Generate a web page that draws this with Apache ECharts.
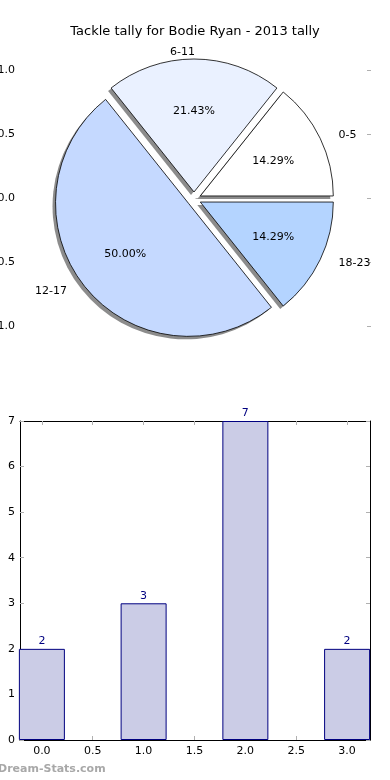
<!DOCTYPE html>
<html><head><meta charset="utf-8">
<script src="https://cdn.jsdelivr.net/npm/echarts@6/dist/echarts.min.js"></script>
<style>html,body{margin:0;padding:0;background:#fff}#c{width:390px;height:780px}</style>
</head><body><div id="c"></div>
<script>
const titleText = 'Tackle tally for Bodie Ryan - 2013 tally';
const sliceLabels = ['0-5', '6-11', '12-17', '18-23'];
const sliceValues = [2, 3, 7, 2];
const sliceColors = ['#ffffff', '#eaf1ff', '#c5d9ff', '#b4d4ff'];
const pieTicks = [-1.0, -0.5, 0.0, 0.5, 1.0];
const barX = [0, 1, 2, 3];
const barValues = [2, 3, 7, 2];
const barXTicks = [0, 0.5, 1, 1.5, 2, 2.5, 3];
const barYTicks = [0, 1, 2, 3, 4, 5, 6, 7];

const FONT = '"DejaVu Sans", sans-serif';
const tickGray = '#b0b0b0';
const sliceTotal = sliceValues.reduce((a, b) => a + b, 0);
const chart = echarts.init(document.getElementById('c'), null, {renderer: 'canvas'});

const PIE_C = [194, 199];
const PIE_R = 133;
const pieItem = {borderColor: '#000', borderWidth: 0.8};
const shadowItem = {color: '#8c8c8c', borderWidth: 0};
const pieCommon = {
  startAngle: 0, clockwise: false, selectedMode: 'multiple', selectedOffset: 7,
  avoidLabelOverlap: false, emphasis: {disabled: true}
};

const option = {
  animation: false,
  backgroundColor: '#fff',
  title: {
    text: titleText, left: 'center', top: 20,
    textStyle: {fontSize: 13, fontWeight: 'normal', color: '#000', fontFamily: FONT}
  },
  textStyle: {fontFamily: FONT},
  grid: [
    {left: 20, right: 19, top: 70, height: 256, show: false, outerBoundsMode: 'none', containLabel: false},
    {left: 20, right: 20, top: 421, height: 319, show: false, outerBoundsMode: 'none', containLabel: false}
  ],
  xAxis: [
    {gridIndex: 0, type: 'value', min: -1, max: 1, show: false},
    {gridIndex: 1, type: 'value', min: -0.215, max: 3.225, position: 'bottom',
      axisLine: {show: true, onZero: false, lineStyle: {color: '#000', width: 1}},
      axisTick: {show: true, inside: true, length: 4, lineStyle: {color: tickGray}, customValues: barXTicks},
      axisLabel: {show: true, customValues: barXTicks, formatter: v => v.toFixed(1), color: '#000', fontSize: 11, margin: 6, fontFamily: FONT},
      splitLine: {show: false}},
    {gridIndex: 1, type: 'value', min: -0.215, max: 3.225, position: 'top',
      axisLine: {show: true, onZero: false, lineStyle: {color: '#000', width: 1}},
      axisTick: {show: true, inside: true, length: 4, lineStyle: {color: tickGray}, customValues: barXTicks},
      axisLabel: {show: false}, splitLine: {show: false}}
  ],
  yAxis: [
    {gridIndex: 0, type: 'value', min: -1, max: 1, position: 'left',
      axisLine: {show: false},
      axisTick: {show: true, inside: true, length: 4, lineStyle: {color: tickGray}, customValues: pieTicks},
      axisLabel: {show: true, customValues: pieTicks, formatter: v => v.toFixed(1), color: '#000', fontSize: 11, margin: 5, fontFamily: FONT},
      splitLine: {show: false}},
    {gridIndex: 0, type: 'value', min: -1, max: 1, position: 'right',
      axisLine: {show: false},
      axisTick: {show: true, inside: true, length: 4, lineStyle: {color: tickGray}, customValues: pieTicks},
      axisLabel: {show: false}, splitLine: {show: false}},
    {gridIndex: 1, type: 'value', min: 0, max: 7, interval: 1, position: 'left',
      axisLine: {show: true, onZero: false, lineStyle: {color: '#000', width: 1}},
      axisTick: {show: true, inside: true, length: 4, lineStyle: {color: tickGray}, customValues: barYTicks},
      axisLabel: {show: true, customValues: barYTicks, color: '#000', fontSize: 11, margin: 5, fontFamily: FONT},
      splitLine: {show: false}},
    {gridIndex: 1, type: 'value', min: 0, max: 7, interval: 1, position: 'right',
      axisLine: {show: true, onZero: false, lineStyle: {color: '#000', width: 1}},
      axisTick: {show: true, inside: true, length: 4, lineStyle: {color: tickGray}, customValues: barYTicks},
      axisLabel: {show: false}, splitLine: {show: false}}
  ],
  series: [
    Object.assign({}, pieCommon, {
      type: 'pie', center: [PIE_C[0] - 3, PIE_C[1] + 3], radius: PIE_R, silent: true,
      data: sliceLabels.map((n, i) => ({name: n, value: sliceValues[i], selected: true})),
      itemStyle: shadowItem, select: {itemStyle: shadowItem},
      label: {show: false}, labelLine: {show: false}, z: 1
    }),
    Object.assign({}, pieCommon, {
      type: 'pie', center: PIE_C, radius: PIE_R,
      data: sliceLabels.map((n, i) => ({name: n, value: sliceValues[i], selected: true, itemStyle: {color: sliceColors[i]}})),
      itemStyle: pieItem, select: {itemStyle: pieItem},
      label: {show: true, position: 'outside', formatter: '{b}', color: '#000', fontSize: 11, fontFamily: FONT, distanceToLabelLine: 12},
      labelLine: {show: false, length: 7, length2: 0},
      labelLayout: p => p.dataIndex === 1 ? {align: 'right', dx: -11} : {},
      z: 2
    }),
    Object.assign({}, pieCommon, {
      type: 'pie', center: PIE_C, radius: [23, PIE_R], silent: true,
      data: sliceLabels.map((n, i) => ({name: n, value: sliceValues[i], selected: true})),
      itemStyle: {color: 'rgba(0,0,0,0)', borderWidth: 0},
      select: {itemStyle: {color: 'rgba(0,0,0,0)', borderWidth: 0}},
      label: {show: true, position: 'inside', formatter: p => (p.value / sliceTotal * 100).toFixed(2) + '%', color: '#000', fontSize: 11, fontFamily: FONT},
      labelLine: {show: false},
      z: 3
    }),
    {
      type: 'bar', xAxisIndex: 1, yAxisIndex: 2,
      data: barX.map((x, i) => [x, barValues[i]]),
      barWidth: 46, clip: true,
      itemStyle: {color: '#cbcce6', borderColor: '#000080', borderWidth: 1},
      emphasis: {disabled: true},
      label: {show: true, position: 'top', color: '#000080', fontSize: 11, distance: 2, fontFamily: FONT}
    }
  ],
  graphic: [
    {type: 'text', left: -2, top: 764,
      style: {text: 'Dream-Stats.com', fill: '#a8a8a8', font: 'bold 11px "DejaVu Sans"'}}
  ]
};
chart.setOption(option);
</script>
</body></html>
